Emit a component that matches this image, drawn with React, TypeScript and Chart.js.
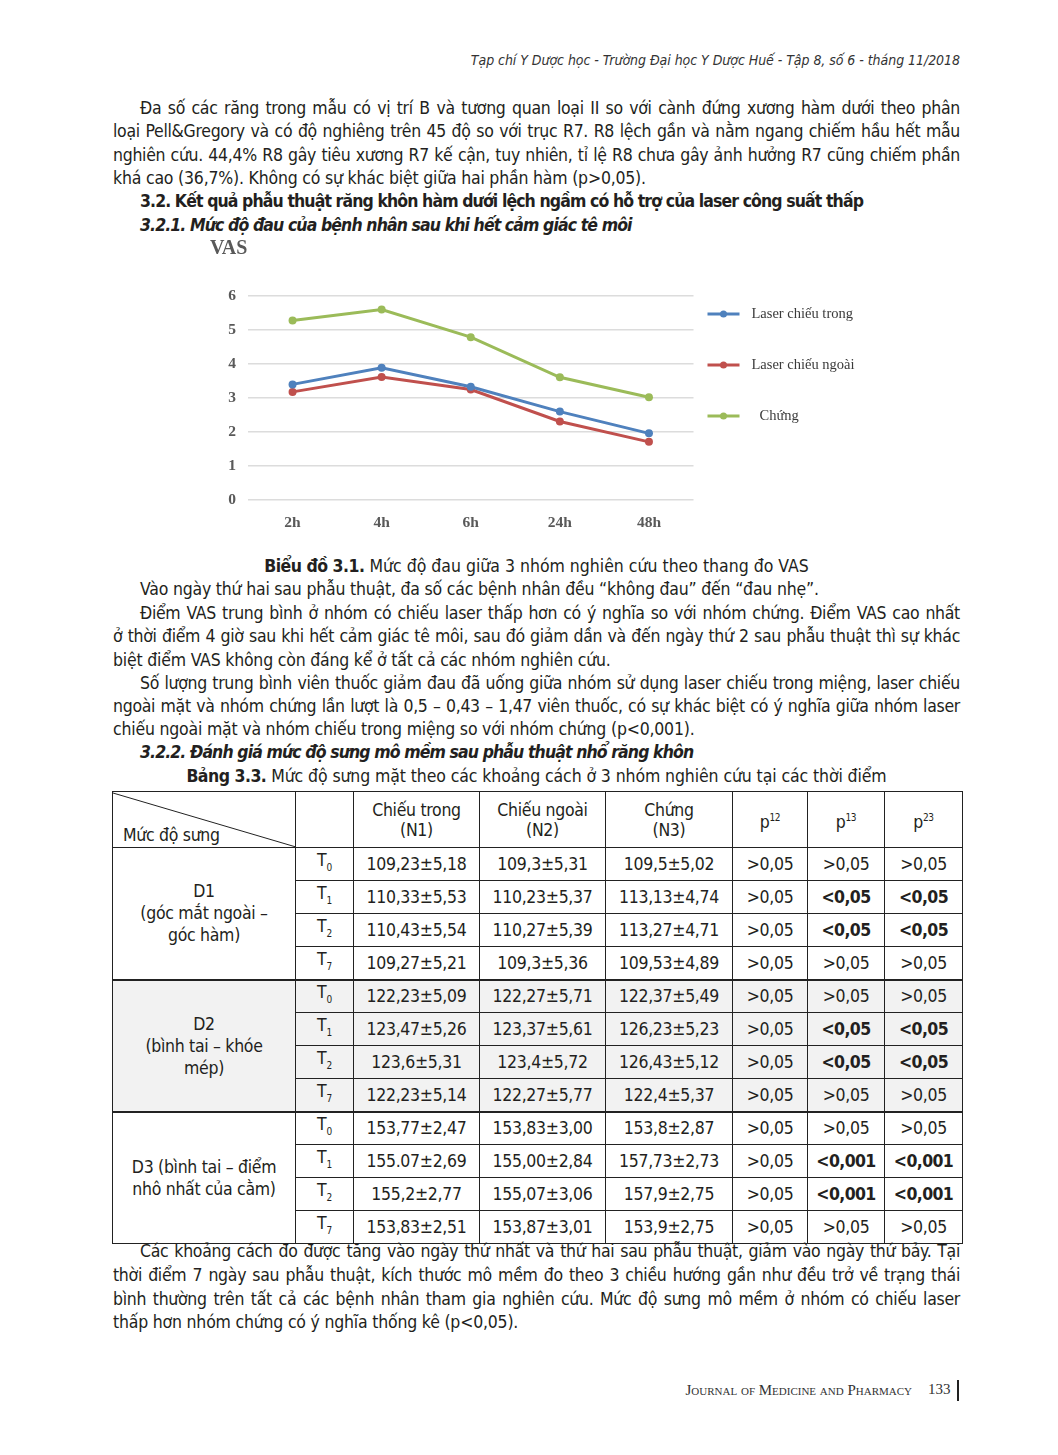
import React, { useEffect, useRef } from 'react';
import { Chart, registerables } from 'chart.js';

Chart.register(...registerables);

// ---------- Chart data ----------
const timeLabels = ['2h', '4h', '6h', '24h', '48h'];
const seriesNames = ['Laser chiếu trong', 'Laser chiếu ngoài', 'Chứng'];
const laserTrong = [3.4, 3.89, 3.33, 2.6, 1.96];
const laserNgoai = [3.18, 3.62, 3.25, 2.31, 1.71];
const chung = [5.28, 5.6, 4.79, 3.61, 3.02];
const seriesColors = ['#4F81BD', '#C0504D', '#9BBB59'];
const yAxisTitle = 'VAS';

// ---------- Table data ----------
const groupLabels = [
  ['D1', '(góc mắt ngoài –', 'góc hàm)'],
  ['D2', '(bình tai – khóe', 'mép)'],
  ['D3 (bình tai – điểm', 'nhô nhất của cằm)'],
];
const timeSubs = ['0', '1', '2', '7'];
const n1Values = ['109,23±5,18', '110,33±5,53', '110,43±5,54', '109,27±5,21', '122,23±5,09', '123,47±5,26', '123,6±5,31', '122,23±5,14', '153,77±2,47', '155.07±2,69', '155,2±2,77', '153,83±2,51'];
const n2Values = ['109,3±5,31', '110,23±5,37', '110,27±5,39', '109,3±5,36', '122,27±5,71', '123,37±5,61', '123,4±5,72', '122,27±5,77', '153,83±3,00', '155,00±2,84', '155,07±3,06', '153,87±3,01'];
const n3Values = ['109,5±5,02', '113,13±4,74', '113,27±4,71', '109,53±4,89', '122,37±5,49', '126,23±5,23', '126,43±5,12', '122,4±5,37', '153,8±2,87', '157,73±2,73', '157,9±2,75', '153,9±2,75'];
const p12Values = ['>0,05', '>0,05', '>0,05', '>0,05', '>0,05', '>0,05', '>0,05', '>0,05', '>0,05', '>0,05', '>0,05', '>0,05'];
const p13Values = ['>0,05', '<0,05', '<0,05', '>0,05', '>0,05', '<0,05', '<0,05', '>0,05', '>0,05', '<0,001', '<0,001', '>0,05'];
const p23Values = ['>0,05', '<0,05', '<0,05', '>0,05', '>0,05', '<0,05', '<0,05', '>0,05', '>0,05', '<0,001', '<0,001', '>0,05'];

const SANS = '"Liberation Sans Narrow", "DejaVu Sans Condensed", "Open Sans", sans-serif';
const SERIF = '"Liberation Serif", "DejaVu Serif", serif';
const TEXT = '#231f20';

const sideLegend = {
  id: 'sideLegend',
  afterDraw(chart: any) {
    const ctx = chart.ctx;
    const { right, top, left } = chart.chartArea;
    ctx.save();
    chart.data.datasets.forEach((ds: any, i: number) => {
      const y = top + 18 + i * 51;
      const x0 = right + 14;
      ctx.strokeStyle = ds.borderColor;
      ctx.lineWidth = 3;
      ctx.beginPath();
      ctx.moveTo(x0, y);
      ctx.lineTo(x0 + 32, y);
      ctx.stroke();
      ctx.fillStyle = ds.borderColor;
      ctx.beginPath();
      ctx.arc(x0 + 16, y, 3.5, 0, Math.PI * 2);
      ctx.fill();
      ctx.font = '14.5px ' + SERIF;
      ctx.fillStyle = '#3a3a3a';
      ctx.textBaseline = 'middle';
      ctx.textAlign = 'left';
      ctx.fillText(ds.label, x0 + 44 + (i === 2 ? 8 : 0), y);
    });
    ctx.font = 'bold 20px ' + SERIF;
    ctx.fillStyle = '#595959';
    ctx.textBaseline = 'middle';
    ctx.fillText(yAxisTitle, left - 38, top - 47);
    ctx.restore();
  },
};

function VasChart() {
  const ref = useRef<HTMLCanvasElement | null>(null);
  useEffect(() => {
    if (!ref.current) return;
    const seriesData = [laserTrong, laserNgoai, chung];
    const chart = new Chart(ref.current, {
      type: 'line',
      data: {
        labels: timeLabels,
        datasets: seriesNames.map((name, i) => ({
          label: name,
          data: seriesData[i],
          borderColor: seriesColors[i],
          backgroundColor: seriesColors[i],
          borderWidth: 3,
          pointRadius: 4,
          pointBorderWidth: 0,
          tension: 0,
        })),
      },
      options: {
        animation: false,
        responsive: false,
        devicePixelRatio: 1,
        layout: { padding: { left: 0, right: 186.5, top: 60, bottom: 0 } },
        plugins: { legend: { display: false }, tooltip: { enabled: false }, title: { display: false } },
        scales: {
          x: {
            offset: true,
            grid: { display: false, drawTicks: false },
            border: { display: false },
            ticks: { color: '#595959', font: { family: SERIF, size: 15.5, weight: 'bold' }, padding: 14 },
            afterFit: (s: any) => { s.height = 46; },
          },
          y: {
            min: 0,
            max: 6,
            grid: { color: '#dcdcdc', lineWidth: 1.5, drawTicks: false },
            border: { display: false },
            ticks: { stepSize: 1, color: '#595959', font: { family: SERIF, size: 15.5, weight: 'bold' }, padding: 12 },
            afterFit: (s: any) => { s.width = 48; },
          },
        },
      },
      plugins: [sideLegend],
    } as any);
    return () => chart.destroy();
  }, []);
  return (
    <canvas
      ref={ref}
      width={680}
      height={310}
      style={{ position: 'absolute', left: 200, top: 236, width: 680, height: 310 }}
    />
  );
}

type LineProps = { x: number; y: number; children: React.ReactNode; justify?: boolean; style?: React.CSSProperties };
function Line({ x, y, children, justify, style }: LineProps) {
  return (
    <div
      style={{
        position: 'absolute',
        left: x,
        top: y - 12,
        width: 960 - x,
        height: 24,
        lineHeight: '24px',
        whiteSpace: 'nowrap',
        fontFamily: SANS,
        fontSize: 17.5,
        letterSpacing: justify ? '-0.3px' : '-0.2px',
        color: TEXT,
        textAlign: 'justify',
        textAlignLast: justify ? 'justify' : 'left',
        ...style,
      } as React.CSSProperties}
    >
      {children}
    </div>
  );
}

const cell: React.CSSProperties = {
  border: '1px solid #222',
  textAlign: 'center',
  verticalAlign: 'middle',
  padding: 0,
  fontFamily: SANS,
  fontSize: 17.5,
  letterSpacing: '-0.3px',
  color: TEXT,
  lineHeight: '20px',
};

function DataTable() {
  const colW = [183, 58, 126, 126, 127, 75, 77, 78];
  const rows: React.ReactNode[] = [];
  for (let i = 0; i < 12; i++) {
    const g = Math.floor(i / 4);
    const bg = g === 1 ? '#f2f2f2' : '#fff';
    const topBorder = i % 4 === 0 && i > 0 ? '2px solid #222' : undefined;
    const c = (v: string) => (
      <td style={{ ...cell, background: bg, borderTop: topBorder, fontWeight: v.startsWith('<') ? 'bold' : 'normal', letterSpacing: v.startsWith('<') ? '-0.6px' : '-0.3px' }}>{v}</td>
    );
    rows.push(
      <tr key={i} style={{ height: 33 }}>
        {i % 4 === 0 && (
          <td rowSpan={4} style={{ ...cell, background: bg, borderTop: topBorder, lineHeight: '22px' }}>
            {groupLabels[g].map((t, k) => (
              <div key={k}>{t}</div>
            ))}
          </td>
        )}
        <td style={{ ...cell, background: bg, borderTop: topBorder }}>
          T<sub style={{ fontSize: 10, verticalAlign: '-5px' }}>{timeSubs[i % 4]}</sub>
        </td>
        {c(n1Values[i])}
        {c(n2Values[i])}
        {c(n3Values[i])}
        {c(p12Values[i])}
        {c(p13Values[i])}
        {c(p23Values[i])}
      </tr>
    );
  }
  const sup = (s: string) => (
    <span>
      p<sup style={{ fontSize: 10, verticalAlign: '7px' }}>{s}</sup>
    </span>
  );
  return (
    <table
      style={{
        position: 'absolute',
        left: 112,
        top: 791,
        width: 850,
        borderCollapse: 'collapse',
        tableLayout: 'fixed',
      }}
    >
      <colgroup>
        {colW.map((w, i) => (
          <col key={i} style={{ width: w }} />
        ))}
      </colgroup>
      <tbody>
        <tr style={{ height: 56 }}>
          <td style={{ ...cell, position: 'relative', textAlign: 'left' }}>
            <svg width={183} height={56} style={{ position: 'absolute', left: 0, top: 0 }}>
              <line x1={0} y1={1} x2={183} y2={55} stroke="#222" strokeWidth={1} />
            </svg>
            <div style={{ position: 'absolute', left: 10, bottom: 2 }}>Mức độ sưng</div>
          </td>
          <td style={cell}></td>
          <td style={cell}>Chiếu trong<br />(N1)</td>
          <td style={cell}>Chiếu ngoài<br />(N2)</td>
          <td style={cell}>Chứng<br />(N3)</td>
          <td style={cell}>{sup('12')}</td>
          <td style={cell}>{sup('13')}</td>
          <td style={cell}>{sup('23')}</td>
        </tr>
        {rows}
      </tbody>
    </table>
  );
}

const boldHead: React.CSSProperties = { fontWeight: 'bold', letterSpacing: '-0.9px' };
const boldItalicHead: React.CSSProperties = { fontWeight: 'bold', fontStyle: 'italic', letterSpacing: '-0.9px' };

export default function App() {
  useEffect(() => {
    document.body.style.margin = '0';
  }, []);
  return (
    <div style={{ position: 'absolute', left: 0, top: 0, width: 1058, height: 1455, background: '#fff', overflow: 'hidden' }}>
      <Line x={400} y={60} style={{ textAlign: 'right', textAlignLast: 'right', fontStyle: 'italic', fontSize: 14, letterSpacing: '-0.05px', color: '#333' }}>
        Tạp chí Y Dược học - Trường Đại học Y Dược Huế - Tập 8, số 6 - tháng 11/2018
      </Line>

      <Line x={140} y={108} justify>Đa số các răng trong mẫu có vị trí B và tương quan loại II so với cành đứng xương hàm dưới theo phân</Line>
      <Line x={113} y={131} justify>loại Pell&amp;Gregory và có độ nghiêng trên 45 độ so với trục R7. R8 lệch gần và nằm ngang chiếm hầu hết mẫu</Line>
      <Line x={113} y={155} justify>nghiên cứu. 44,4% R8 gây tiêu xương R7 kế cận, tuy nhiên, tỉ lệ R8 chưa gây ảnh hưởng R7 cũng chiếm phần</Line>
      <Line x={113} y={178}>khá cao (36,7%). Không có sự khác biệt giữa hai phần hàm (p&gt;0,05).</Line>
      <Line x={140} y={201} style={boldHead}>3.2. Kết quả phẫu thuật răng khôn hàm dưới lệch ngầm có hỗ trợ của laser công suất thấp</Line>
      <Line x={140} y={225} style={boldItalicHead}>3.2.1. Mức độ đau của bệnh nhân sau khi hết cảm giác tê môi</Line>

      <VasChart />

      <Line x={113} y={566} style={{ textAlign: 'center', textAlignLast: 'center', letterSpacing: '0px' }}>
        <b style={{ letterSpacing: '-0.5px' }}>Biểu đồ 3.1.</b> Mức độ đau giữa 3 nhóm nghiên cứu theo thang đo VAS
      </Line>
      <Line x={140} y={589}>Vào ngày thứ hai sau phẫu thuật, đa số các bệnh nhân đều “không đau” đến “đau nhẹ”.</Line>
      <Line x={140} y={613} justify>Điểm VAS trung bình ở nhóm có chiếu laser thấp hơn có ý nghĩa so với nhóm chứng. Điểm VAS cao nhất</Line>
      <Line x={113} y={636} justify>ở thời điểm 4 giờ sau khi hết cảm giác tê môi, sau đó giảm dần và đến ngày thứ 2 sau phẫu thuật thì sự khác</Line>
      <Line x={113} y={660}>biệt điểm VAS không còn đáng kể ở tất cả các nhóm nghiên cứu.</Line>
      <Line x={140} y={683} justify>Số lượng trung bình viên thuốc giảm đau đã uống giữa nhóm sử dụng laser chiếu trong miệng, laser chiếu</Line>
      <Line x={113} y={706} justify>ngoài mặt và nhóm chứng lần lượt là 0,5 – 0,43 – 1,47 viên thuốc, có sự khác biệt có ý nghĩa giữa nhóm laser</Line>
      <Line x={113} y={729}>chiếu ngoài mặt và nhóm chiếu trong miệng so với nhóm chứng (p&lt;0,001).</Line>
      <Line x={140} y={752} style={boldItalicHead}>3.2.2. Đánh giá mức độ sưng mô mềm sau phẫu thuật nhổ răng khôn</Line>
      <Line x={113} y={776} style={{ textAlign: 'center', textAlignLast: 'center', letterSpacing: '-0.1px' }}>
        <b style={{ letterSpacing: '-0.5px' }}>Bảng 3.3.</b> Mức độ sưng mặt theo các khoảng cách ở 3 nhóm nghiên cứu tại các thời điểm
      </Line>

      <DataTable />

      <Line x={140} y={1251} justify>Các khoảng cách đo được tăng vào ngày thứ nhất và thứ hai sau phẫu thuật, giảm vào ngày thứ bảy. Tại</Line>
      <Line x={113} y={1275} justify>thời điểm 7 ngày sau phẫu thuật, kích thước mô mềm đo theo 3 chiều hướng gần như đều trở về trạng thái</Line>
      <Line x={113} y={1299} justify>bình thường trên tất cả các bệnh nhân tham gia nghiên cứu. Mức độ sưng mô mềm ở nhóm có chiếu laser</Line>
      <Line x={113} y={1322}>thấp hơn nhóm chứng có ý nghĩa thống kê (p&lt;0,05).</Line>

      <div style={{ position: 'absolute', left: 560, top: 1380, width: 352, textAlign: 'right', fontFamily: SERIF, fontSize: 15, fontVariant: 'small-caps', color: '#333', lineHeight: '20px' }}>
        Journal of Medicine and Pharmacy
      </div>
      <div style={{ position: 'absolute', left: 928, top: 1379, fontFamily: SERIF, fontSize: 15, color: '#333', lineHeight: '20px' }}>133</div>
      <div style={{ position: 'absolute', left: 957, top: 1380, width: 2, height: 21, background: '#222' }} />
    </div>
  );
}
